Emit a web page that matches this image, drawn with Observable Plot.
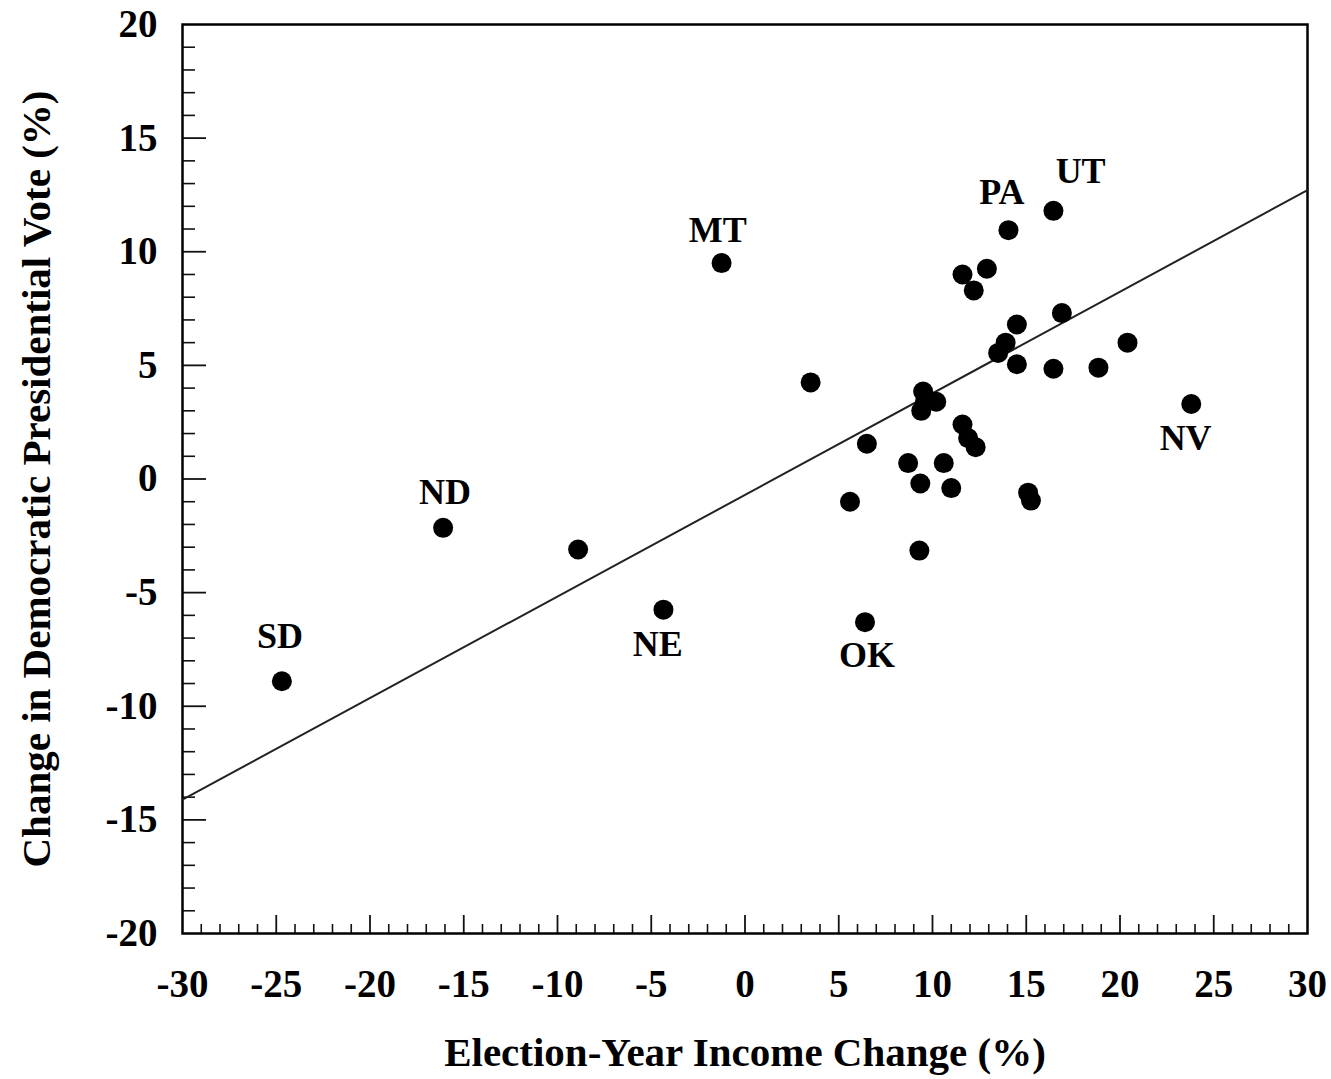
<!DOCTYPE html>
<html><head><meta charset="utf-8">
<script src="https://cdn.jsdelivr.net/npm/d3@7"></script>
<script src="https://cdn.jsdelivr.net/npm/@observablehq/plot@0.6"></script>
<style>
body{margin:0;background:#fff}
#chart svg{font-family:"Liberation Serif","DejaVu Serif",serif;}
#chart svg [aria-label="x-axis label"], #chart svg [aria-label="y-axis label"]{font-weight:bold;font-size:41px;}
</style>
</head><body><div id="chart"></div>
<script>
// Election-year income change (%) for each state
const incomeChange = [-24.7, -16.1, -8.9, -4.35, -1.25, 3.5, 5.6, 6.4, 6.5, 8.7, 9.35, 9.3,
  9.5, 9.4, 10.2, 9.6, 10.6, 11.0, 11.6, 11.9, 12.3, 15.1, 15.25,
  16.45, 14.05, 11.6, 12.9, 12.2, 14.5, 16.9, 13.9, 13.5, 14.5, 16.45, 18.85, 20.4, 23.8];
// Change in Democratic presidential vote (%)
const voteChange = [-8.9, -2.15, -3.1, -5.75, 9.5, 4.25, -1.0, -6.3, 1.55, 0.7, -0.2, -3.15,
  3.85, 3.0, 3.4, 3.4, 0.7, -0.4, 2.4, 1.8, 1.4, -0.6, -0.95,
  11.8, 10.95, 9.0, 9.25, 8.3, 6.8, 7.3, 6.0, 5.55, 5.05, 4.85, 4.9, 6.0, 3.3];
// Labelled states and where their labels sit (data units)
const stateLabels = ["SD", "ND", "NE", "MT", "OK", "PA", "UT", "NV"];
const labelX = [-24.8, -16.0, -4.65, -1.45, 6.5, 13.7, 17.9, 23.5];
const labelY = [-6.95, -0.6, -7.3, 10.95, -7.75, 12.6, 13.55, 1.8];
// Fitted regression line
const fitIntercept = -0.7;
const fitSlope = 0.447;
// Axis ticks
const xTicks = [-30, -25, -20, -15, -10, -5, 0, 5, 10, 15, 20, 25, 30];
const yTicks = [-20, -15, -10, -5, 0, 5, 10, 15, 20];
const xMinor = d3.range(-29, 30).filter(v => v % 5 !== 0);
const yMinor = d3.range(-19, 20).filter(v => v % 5 !== 0);

const W = 1331, H = 1079;
const mL = 182, mR = 24, mT = 24, mB = 146;
const innerW = W - mL - mR, innerH = H - mT - mB;

const points = incomeChange.map((x, i) => ({x, y: voteChange[i]}));
const labels = stateLabels.map((s, i) => ({s, x: labelX[i], y: labelY[i]}));
const fit = [xTicks[0], xTicks[xTicks.length - 1]].map(x => ({x, y: fitIntercept + fitSlope * x}));

const chart = Plot.plot({
  width: W, height: H,
  marginLeft: mL, marginRight: mR, marginTop: mT, marginBottom: mB,
  style: {fontFamily: '"Liberation Serif","DejaVu Serif",serif', color: "#000", background: "#fff"},
  x: {domain: [-30, 30]},
  y: {domain: [-20, 20]},
  marks: [
    Plot.ruleX(xMinor, {x: d => d, insetTop: innerH - 9, stroke: "#111", strokeWidth: 1.6}),
    Plot.ruleX(xTicks.slice(1, -1), {x: d => d, insetTop: innerH - 18, stroke: "#111", strokeWidth: 1.8}),
    Plot.ruleY(yMinor, {y: d => d, insetRight: innerW - 13, stroke: "#111", strokeWidth: 1.6}),
    Plot.ruleY(yTicks.slice(1, -1), {y: d => d, insetRight: innerW - 24, stroke: "#111", strokeWidth: 1.8}),
    Plot.frame({stroke: "#000", strokeWidth: 2.5}),
    Plot.axisX(xTicks, {tickSize: 0, tickPadding: 36, fontSize: 39, fontWeight: "bold", tickFormat: d => String(d),
      label: "Election-Year Income Change (%)", labelAnchor: "center", labelOffset: 132, labelArrow: "none"}),
    Plot.axisY(yTicks, {tickSize: 0, tickPadding: 25, fontSize: 39, fontWeight: "bold", tickFormat: d => String(d),
      label: "Change in Democratic Presidential Vote (%)", labelAnchor: "center", labelOffset: 162, labelArrow: "none"}),
    Plot.line(fit, {x: "x", y: "y", stroke: "#222", strokeWidth: 2}),
    Plot.dot(points, {x: "x", y: "y", r: 10, fill: "#000"}),
    Plot.text(labels, {x: "x", y: "y", text: "s", fontSize: 36, fontWeight: "bold", fill: "#000"})
  ]
});
document.getElementById("chart").appendChild(chart);
</script>
</body></html>
